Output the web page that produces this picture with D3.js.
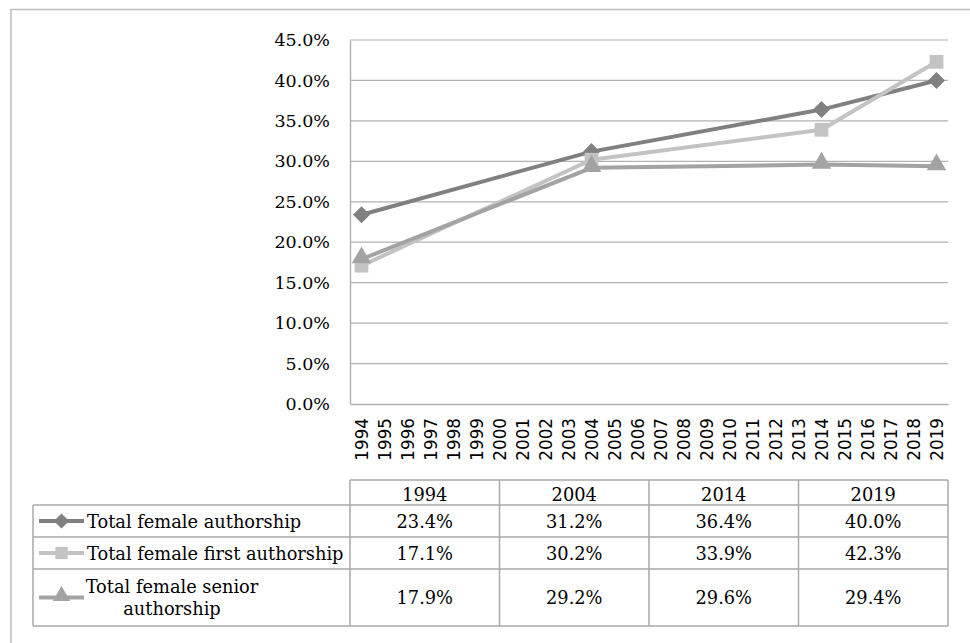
<!DOCTYPE html>
<html><head><meta charset="utf-8">
<script src="https://cdn.jsdelivr.net/npm/d3@7/dist/d3.min.js"></script>
<style>
body{margin:0;background:#fff;}
svg{display:block;}
</style></head>
<body>
<svg id="c" width="970" height="643"></svg>
<script>
const years = d3.range(1994, 2020).map(String);
const tableYears = ["1994", "2004", "2014", "2019"];
const seriesNames = ["Total female authorship", "Total female first authorship", "Total female senior authorship"];
const authorship = [23.4, 31.2, 36.4, 40.0];
const firstAuthorship = [17.1, 30.2, 33.9, 42.3];
const seniorAuthorship = [17.9, 29.2, 29.6, 29.4];
const yTicks = [0, 5, 10, 15, 20, 25, 30, 35, 40, 45];

const seriesValues = [authorship, firstAuthorship, seniorAuthorship];
const colors = ["#808080", "#c3c3c3", "#a3a3a3"];
const shapes = [d3.symbolDiamond2, d3.symbolSquare, d3.symbolTriangle];
const symSizes = [185, 190, 165];

const svg = d3.select("#c");
const grid = "#b2b2b2";
const serif = "'DejaVu Serif', serif";

// outer frame
svg.append("path").attr("d", "M11,660 V9.5 H990").attr("fill", "none").attr("stroke", "#bdbdbd").attr("stroke-width", 1.5);

const x = d3.scaleBand().domain(years).range([350, 948]).paddingInner(0).paddingOuter(0);
const y = d3.scaleLinear().domain([0, 45]).range([404, 40]);

// gridlines
svg.append("g").selectAll("line").data(yTicks.filter(d => d > 0)).join("line")
  .attr("x1", 350).attr("x2", 948).attr("y1", d => y(d)).attr("y2", d => y(d))
  .attr("stroke", grid).attr("stroke-width", 1.2);

// y axis
const yAxis = svg.append("g").attr("transform", "translate(350,0)")
  .call(d3.axisLeft(y).tickValues(yTicks).tickSize(0).tickPadding(20).tickFormat(d => d.toFixed(1) + "%"));
yAxis.select(".domain").attr("stroke", grid).attr("stroke-width", 1.5);
yAxis.selectAll("text").attr("font-family", serif).attr("font-size", 17.5).attr("fill", "#000");

// x axis
const xAxis = svg.append("g").attr("transform", "translate(0,404)")
  .call(d3.axisBottom(x).tickSize(0).tickPadding(0));
xAxis.select(".domain").attr("stroke", grid).attr("stroke-width", 1.5);
xAxis.selectAll("text")
  .attr("font-family", "'DejaVu Sans', sans-serif").attr("font-size", 16.8).attr("fill", "#000")
  .attr("text-anchor", "end").attr("dy", null).attr("y", 0)
  .attr("transform", "translate(6,14) rotate(-90)");

// lines
const line = d3.line().x((d, i) => x(tableYears[i]) + x.bandwidth() / 2).y(d => y(d));
seriesValues.forEach((vals, s) => {
  svg.append("path").datum(vals).attr("d", line).attr("fill", "none")
    .attr("stroke", colors[s]).attr("stroke-width", 4).attr("stroke-linejoin", "round");
});
seriesValues.forEach((vals, s) => {
  svg.append("g").selectAll("path").data(vals).join("path")
    .attr("d", d3.symbol().type(shapes[s]).size(symSizes[s]))
    .attr("transform", (d, i) => `translate(${x(tableYears[i]) + x.bandwidth() / 2},${y(d) + (s === 2 ? -1.5 : 0)})`)
    .attr("fill", colors[s]);
});

// data table
const tLeft = 33, cLeft = 350, tRight = 948;
const rowY = [480, 505, 537, 569, 626];
const colW = (tRight - cLeft) / tableYears.length;
const colX = tableYears.map((d, i) => cLeft + i * colW);
const tg = svg.append("g");
const bc = "#a9a9a9";
const fs = 17.8;
// horizontal lines
tg.append("line").attr("x1", cLeft).attr("x2", tRight).attr("y1", rowY[0]).attr("y2", rowY[0]).attr("stroke", bc).attr("stroke-width", 1.5);
rowY.slice(1).forEach(yy => tg.append("line").attr("x1", tLeft).attr("x2", tRight).attr("y1", yy).attr("y2", yy).attr("stroke", bc).attr("stroke-width", 1.5));
// vertical lines
tg.append("line").attr("x1", tLeft).attr("x2", tLeft).attr("y1", rowY[1]).attr("y2", rowY[4]).attr("stroke", bc).attr("stroke-width", 1.5);
colX.concat([tRight]).forEach(xx => tg.append("line").attr("x1", xx).attr("x2", xx).attr("y1", rowY[0]).attr("y2", rowY[4]).attr("stroke", bc).attr("stroke-width", 1.5));

// header
tableYears.forEach((yr, i) => {
  tg.append("text").attr("x", colX[i] + colW / 2).attr("y", 501).attr("text-anchor", "middle")
    .attr("font-family", serif).attr("font-size", fs).attr("fill", "#000").text(yr);
});
// rows
seriesValues.forEach((vals, s) => {
  const top = rowY[s + 1], bot = rowY[s + 2], mid = (top + bot) / 2;
  // legend key
  tg.append("line").attr("x1", 39).attr("x2", 84).attr("y1", mid).attr("y2", mid).attr("stroke", colors[s]).attr("stroke-width", 4);
  tg.append("path").attr("d", d3.symbol().type(shapes[s]).size(symSizes[s] * 0.8)).attr("transform", `translate(61.5,${mid - (s === 2 ? 1.5 : 0)})`).attr("fill", colors[s]);
  if (s < 2) {
    tg.append("text").attr("x", 87).attr("y", mid + 6.5).attr("font-family", serif).attr("font-size", fs).attr("fill", "#000").text(seriesNames[s]);
  } else {
    const words = seriesNames[s].split(" ");
    const t = tg.append("text").attr("x", 172).attr("y", mid - 5).attr("text-anchor", "middle").attr("font-family", serif).attr("font-size", fs).attr("fill", "#000");
    t.append("tspan").attr("x", 172).text(words.slice(0, 3).join(" "));
    t.append("tspan").attr("x", 172).attr("dy", 22).text(words.slice(3).join(" "));
  }
  vals.forEach((v, i) => {
    tg.append("text").attr("x", colX[i] + colW / 2).attr("y", mid + 6.5).attr("text-anchor", "middle")
      .attr("font-family", serif).attr("font-size", fs).attr("fill", "#000").text(v.toFixed(1) + "%");
  });
});
</script>
</body></html>
